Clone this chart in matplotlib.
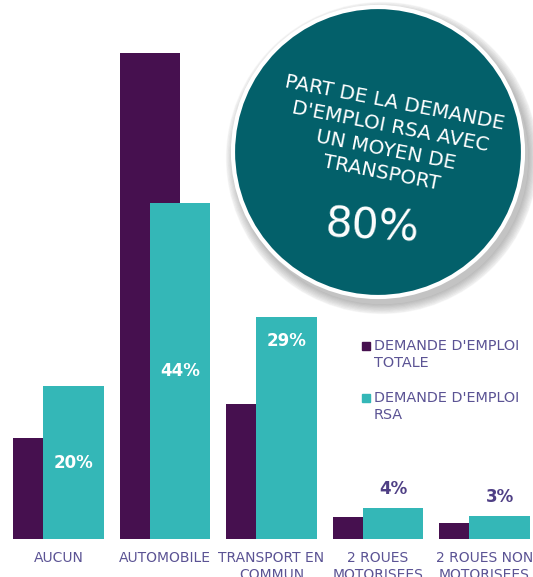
import numpy as np
import matplotlib
matplotlib.use("Agg")
import matplotlib.pyplot as plt
from matplotlib.patches import Circle, Rectangle

# data
categories = ["AUCUN", "AUTOMOBILE", "TRANSPORT EN\nCOMMUN", "2 ROUES\nMOTORISEES", "2 ROUES NON\nMOTORISEES"]
totale = [13.2, 63.6, 17.7, 2.9, 2.1]
rsa = [20, 44, 29, 4, 3]
rsa_labels = ["20%", "44%", "29%", "4%", "3%"]
series_names = ["DEMANDE D'EMPLOI\nTOTALE", "DEMANDE D'EMPLOI\nRSA"]
bubble_title = "PART DE LA DEMANDE\nD'EMPLOI RSA AVEC\nUN MOYEN DE\nTRANSPORT"
bubble_value = "80%"

purple = "#46104f"
teal = "#34b7b7"
dark_teal = "#03606a"
txt = "#5b5394"

W, H = 533, 577
fig = plt.figure(figsize=(W/100, H/100), dpi=100)
ax = fig.add_axes([0, 38/H, 1, 1-38/H])
ax.set_xlim(-58.5/106.5, (W-58.5)/106.5)
ax.set_ylim(0, (H-38)/7.64)
for s in ax.spines.values():
    s.set_visible(False)
ax.set_yticks([])

x = np.arange(len(categories))
w = 0.565
ax.bar(x-0.141, totale, w, color=purple, zorder=2)
bars = ax.bar(x+0.141, rsa, w, color=teal, zorder=3)

ax.set_xticks(x, categories, fontsize=10, color=txt, linespacing=1.25)
ax.tick_params(axis="x", length=0, pad=9)

# value labels
for i, (b, lab) in enumerate(zip(bars, rsa_labels)):
    cx = b.get_x()+b.get_width()/2
    h = b.get_height()
    if h >= 15 and h < 25 or h > 40:
        ax.text(cx, h/2, lab, ha="center", va="center", color="white",
                fontsize=12, fontweight="bold", zorder=4)
    elif h >= 25:
        ax.annotate(lab, (cx, h), xytext=(0, -24), textcoords="offset pixels",
                    ha="center", va="center", color="white",
                    fontsize=12, fontweight="bold", zorder=4)
    else:
        ax.annotate(lab, (cx, h), xytext=(0, 19), textcoords="offset pixels",
                    ha="center", va="center", color="#4f3f85",
                    fontsize=12, fontweight="bold", zorder=4)

# legend drawn by hand
for k, (name, col) in enumerate(zip(series_names, [purple, teal])):
    ytop = H-339-52*k
    fig.patches.append(Rectangle((362, ytop-11), 8, 8, color=col, transform=None))
    fig.text(374/W, ytop/H, name, ha="left", va="top", fontsize=10.4,
             color=txt, linespacing=1.3)

# bubble with shadow
cx, cy, r = 378, H-152, 145
for k in range(8):
    fig.patches.append(Circle((cx+4, cy-6), r+2+k*1.2, color="black",
                              alpha=0.03, transform=None, zorder=5))
fig.patches.append(Circle((cx, cy), r, facecolor=dark_teal, edgecolor="white",
                          linewidth=3, transform=None, zorder=6))
fig.text(388/W, 1-138/H, bubble_title, ha="center", va="center", rotation=-11,
         rotation_mode="anchor", multialignment="center", fontsize=14.3,
         color="white", linespacing=1.32, zorder=7)
fig.text(372/W, 1-227/H, bubble_value, ha="center", va="center", fontsize=30.5,
         rotation=-3, color="white", zorder=7)

fig.savefig("out.png", dpi=100)
